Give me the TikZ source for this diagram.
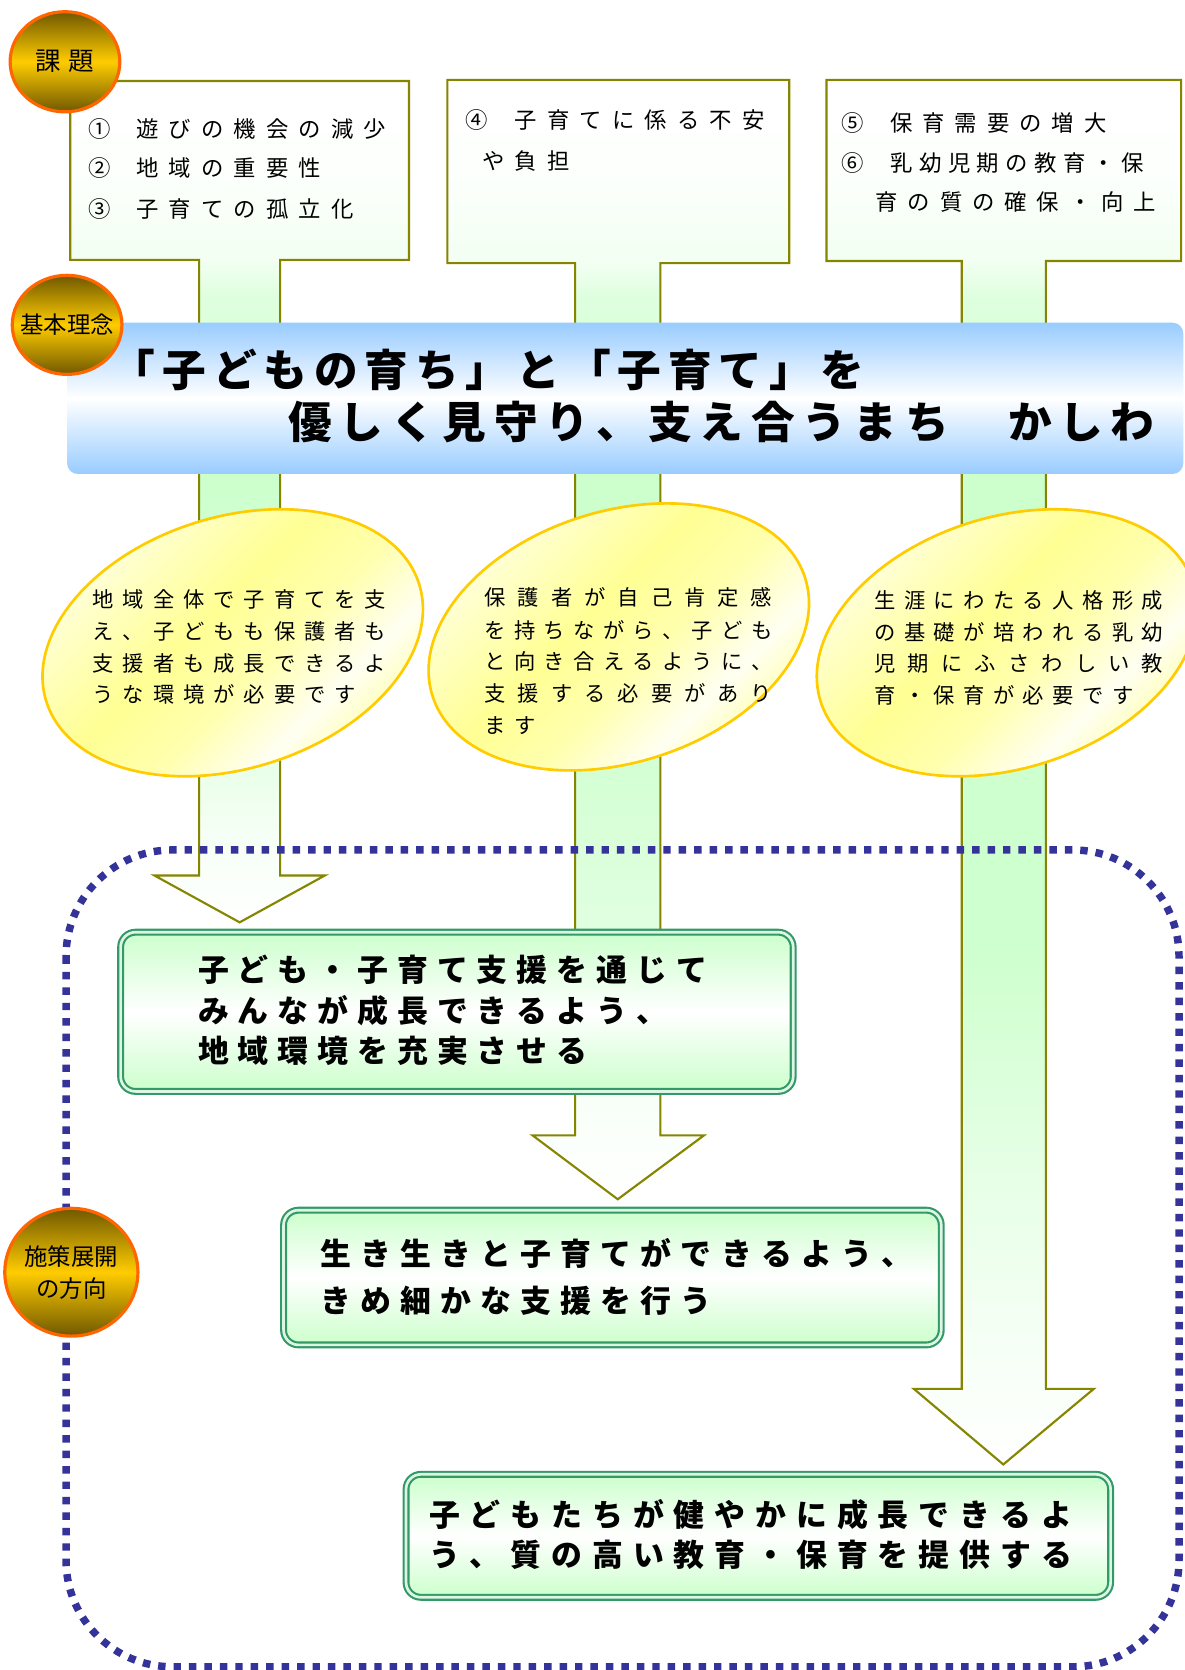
\documentclass[tikz,border=0pt]{standalone}
\usepackage{fontspec}
\newfontfamily\jp{Noto Sans CJK JP}
\usetikzlibrary{shapes.geometric}
\definecolor{olivec}{HTML}{858500}
\definecolor{navyd}{HTML}{333399}
\definecolor{goldc}{HTML}{FFCC00}
\definecolor{orangec}{HTML}{FF6600}
\definecolor{darkgold}{HTML}{705800}
\definecolor{seagreen}{HTML}{339966}
\definecolor{lgreen}{HTML}{CCFFCC}
\definecolor{gapgreen}{HTML}{DDF5E4}
\definecolor{bannerblue}{HTML}{99CCFF}
\pgfdeclareverticalshading{arrA}{100bp}{rgb(0bp)=(1,1,1); rgb(25bp)=(1,1,1); rgb(30.4bp)=(0.96,1,0.96); rgb(33.6bp)=(0.92,1,0.92); rgb(51.3bp)=(0.8,1,0.8); rgb(62.1bp)=(0.87,1,0.87); rgb(64.4bp)=(0.95,1,0.95); rgb(69.7bp)=(0.99,1,0.99); rgb(75bp)=(1,1,1); rgb(100bp)=(1,1,1)}
\pgfdeclareverticalshading{arrB}{100bp}{rgb(0bp)=(1,1,1); rgb(25bp)=(1,1,1); rgb(29.6bp)=(0.97,1,0.97); rgb(37.2bp)=(0.88,1,0.88); rgb(44.3bp)=(0.83,1,0.83); rgb(57.2bp)=(0.8,1,0.8); rgb(65.3bp)=(0.87,1,0.87); rgb(66.8bp)=(0.95,1,0.95); rgb(71bp)=(0.99,1,0.99); rgb(75bp)=(1,1,1); rgb(100bp)=(1,1,1)}
\pgfdeclareverticalshading{arrC}{100bp}{rgb(0bp)=(1,1,1); rgb(25bp)=(1,1,1); rgb(28.65bp)=(0.97,1,0.97); rgb(35.6bp)=(0.9,1,0.9); rgb(43.3bp)=(0.81,1,0.81); rgb(60.6bp)=(0.8,1,0.8); rgb(67.1bp)=(0.87,1,0.87); rgb(68.5bp)=(0.95,1,0.95); rgb(71.7bp)=(0.99,1,0.99); rgb(75bp)=(1,1,1); rgb(100bp)=(1,1,1)}
\pgfdeclareverticalshading{ellsh}{100bp}{rgb(0bp)=(1,1,0.6); rgb(25bp)=(1,1,0.62); rgb(35bp)=(1,1,0.95); rgb(45bp)=(1,1,0.68); rgb(55bp)=(1,1,0.58); rgb(67bp)=(1,1,0.78); rgb(75bp)=(1,1,0.93); rgb(100bp)=(1,1,0.93)}
\def\lspA#1{\ifx#1\relax\else\makebox[\lspw pt][l]{#1}\expandafter\lspA\fi}
\newcommand\lsp[2]{\def\lspw{#1}\lspA#2\relax}
\begin{document}
\begin{tikzpicture}[x=1pt,y=-1pt,
  arrowshape/.style={draw=olivec, line width=2pt, line join=miter, shade, shading=#1},
  frame/.style={draw=navyd, line width=7pt, dash pattern=on 7pt off 7.5pt, rounded corners=100pt},
  banner/.style={rectangle, rounded corners=10pt, top color=bannerblue, bottom color=bannerblue, middle color=white, inner sep=0pt, outer sep=0pt},
  bubble/.style={ellipse, draw=goldc, line width=2.5pt, shade, shading=ellsh, shading angle=45, minimum width=367pt, minimum height=236pt, rotate=17.5, inner sep=0pt},
  gbox/.style={rectangle, rounded corners=14pt, draw=seagreen, double=gapgreen, double distance=2.5pt, line width=2pt, top color=lgreen, bottom color=lgreen, middle color=white, inner sep=0pt, outer sep=0pt},
  badge/.style={ellipse, draw=orangec, line width=3pt, top color=darkgold, bottom color=darkgold, middle color=goldc, inner sep=0pt},
  txt/.style={anchor=base west, inner sep=0pt, outer sep=0pt, text=black},
  boxfont/.style={font=\jp\fontsize{21}{21}\selectfont},
  bubfont/.style={font=\jp\fontsize{20}{20}\selectfont},
  banfont/.style={font=\jp\bfseries\fontsize{41}{41}\selectfont},
  gfont/.style={font=\jp\bfseries\fontsize{29}{29}\selectfont},
  badgefont/.style={font=\jp\fontsize{#1}{30}\selectfont, inner sep=0pt, align=center, text=black}
]
\useasboundingbox (0,0) rectangle (1112,1568);
\fill[white] (0,0) rectangle (1112,1568);

% arrows (box + stem + head)
\draw[arrowshape=arrA] (66,76) -- (384,76) -- (384,244) -- (263,244) -- (263,822) -- (305,822) -- (225,866) -- (145,822) -- (187,822) -- (187,244) -- (66,244) -- cycle;
\draw[arrowshape=arrB] (420,75) -- (741,75) -- (741,247) -- (620,247) -- (620,1066) -- (661,1066) -- (580,1126) -- (500,1066) -- (540,1066) -- (540,247) -- (420,247) -- cycle;
\draw[arrowshape=arrC] (776,75) -- (1109,75) -- (1109,245) -- (982,245) -- (982,1304) -- (1027,1304) -- (942,1375) -- (858,1304) -- (903,1304) -- (903,245) -- (776,245) -- cycle;

% dotted frame
\draw[frame] (62,798) rectangle (1107,1565);

% banner
\node[banner, minimum width=1048pt, minimum height=142pt] (ban) at (587,374) {};

% bubbles
\node[bubble] (e1) at (218.5,603.5) {};
\node[bubble] (e2) at (581,598) {};
\node[bubble] (e3) at (945.5,603.5) {};

% green boxes
\node[gbox, minimum width=631.5pt, minimum height=149.5pt] (g1) at (429,950) {};
\node[gbox, minimum width=617.5pt, minimum height=126.5pt] (g2) at (575,1199.5) {};
\node[gbox, minimum width=661.5pt, minimum height=115.5pt] (g3) at (712,1442) {};

% badges
\node[badge, minimum width=103pt, minimum height=94pt] (c1) at (61,58) {};
\node[badge, minimum width=103pt, minimum height=93pt] (c2) at (63,305) {};
\node[badge, minimum width=125pt, minimum height=120pt] (c3) at (67,1194.5) {};
\node[badgefont=24] (c1t) at (c1) {課\hspace{7pt}題};
\node[badgefont=22] (c2t) at (c2) {基本理念};
\node[badgefont=22] (c3t) at (c3) {施策展開\\の方向};

% challenge texts
\node[txt, boxfont] (b1l1) at (83,129) {\makebox[45pt][l]{①}\lsp{30.5}{遊びの機会の減少}};
\node[txt, boxfont] (b1l2) at (83,166) {\makebox[45pt][l]{②}\lsp{30.5}{地域の重要性}};
\node[txt, boxfont] (b1l3) at (83,204) {\makebox[45pt][l]{③}\lsp{30.5}{子育ての孤立化}};
\node[txt, boxfont] (b2l1) at (437,121) {\makebox[46pt][l]{④}\lsp{30.6}{子育てに係る不安}};
\node[txt, boxfont] (b2l2) at (453,159) {\lsp{30.5}{や負担}};
\node[txt, boxfont] (b3l1) at (790,123) {\makebox[46pt][l]{⑤}\lsp{30.3}{保育需要の増大}};
\node[txt, boxfont] (b3l2) at (790,161) {\makebox[46pt][l]{⑥}\lsp{27.1}{乳幼児期の教育・保}};
\node[txt, boxfont] (b3l3) at (822,198) {\lsp{30.3}{育の質の確保・向上}};

% banner text
\node[txt, banfont] (bt1) at (105,362.6) {\lsp{47.5}{「子どもの育ち」と「子育て」を}};
\node[txt, banfont] (bt2) at (271,411.6) {\lsp{48.25}{優しく見守り、支え合うまち}\hspace{48.25pt}\lsp{48.25}{かしわ}};

% bubble texts
\node[txt, bubfont] (e1l1) at (87,570.6) {\lsp{28.4}{地域全体で子育てを支}};
\node[txt, bubfont] (e1l2) at (87,600.6) {\lsp{28.4}{え、子どもも保護者も}};
\node[txt, bubfont] (e1l3) at (87,630.6) {\lsp{28.4}{支援者も成長できるよ}};
\node[txt, bubfont] (e1l4) at (87,659.6) {\lsp{28.4}{うな環境が必要です}};
\node[txt, bubfont] (e2l1) at (455,568.6) {\lsp{31.25}{保護者が自己肯定感}};
\node[txt, bubfont] (e2l2) at (455,599.6) {\lsp{27.8}{を持ちながら、子ども}};
\node[txt, bubfont] (e2l3) at (455,628.6) {\lsp{27.8}{と向き合えるように、}};
\node[txt, bubfont] (e2l4) at (455,658.6) {\lsp{31.25}{支援する必要があり}};
\node[txt, bubfont] (e2l5) at (455,688.6) {\lsp{27.8}{ます}};
\node[txt, bubfont] (e3l1) at (821,571.6) {\lsp{27.9}{生涯にわたる人格形成}};
\node[txt, bubfont] (e3l2) at (821,601.6) {\lsp{27.9}{の基礎が培われる乳幼}};
\node[txt, bubfont] (e3l3) at (821,630.6) {\lsp{31.4}{児期にふさわしい教}};
\node[txt, bubfont] (e3l4) at (821,660.6) {\lsp{27.9}{育・保育が必要です}};

% green box texts
\node[txt, gfont] (g1l1) at (186,922) {\lsp{37.4}{子ども・子育て支援を通じて}};
\node[txt, gfont] (g1l2) at (186,960) {\lsp{37.4}{みんなが成長できるよう、}};
\node[txt, gfont] (g1l3) at (186,998) {\lsp{37.4}{地域環境を充実させる}};
\node[txt, gfont] (g2l1) at (301,1188) {\lsp{37.6}{生き生きと子育てができるよう、}};
\node[txt, gfont] (g2l2) at (301,1232) {\lsp{37.6}{きめ細かな支援を行う}};
\node[txt, gfont] (g3l1) at (403,1433) {\lsp{38.3}{子どもたちが健やかに成長できるよ}};
\node[txt, gfont] (g3l2) at (403,1471) {\lsp{38.3}{う、質の高い教育・保育を提供する}};
\end{tikzpicture}
\end{document}
